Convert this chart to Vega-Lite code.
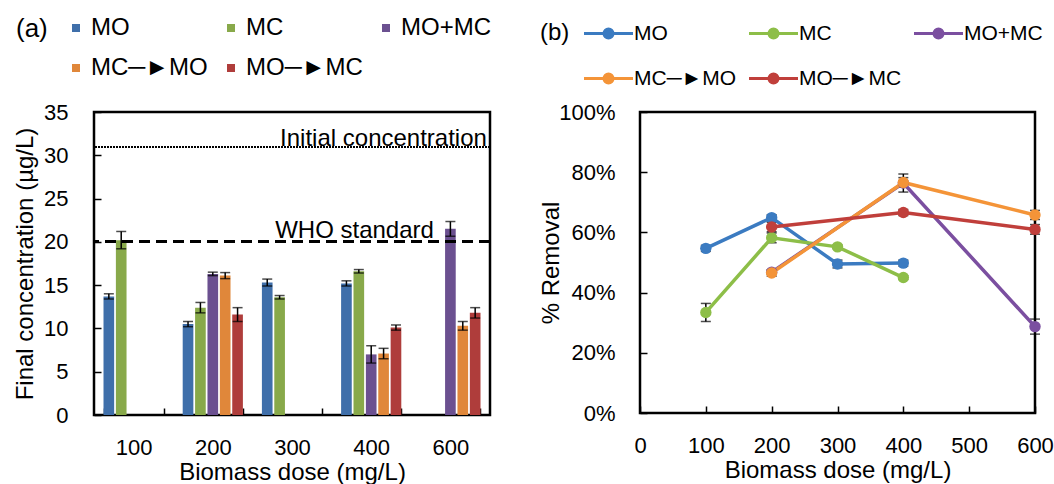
{
  "$schema": "https://vega.github.io/schema/vega-lite/v6.json",
  "background": "white",
  "padding": {"left": 12, "top": 14, "right": 0, "bottom": 0},
  "spacing": 150,
  "bounds": "flush",
  "config": {
    "font": "Liberation Sans",
    "view": {"stroke": "#000", "strokeWidth": 2.5},
    "axis": {
      "domain": false, "grid": false, "tickColor": "#000", "tickWidth": 1.5, "tickSize": -7,
      "labelColor": "#000", "titleColor": "#000", "labelFontSize": 22, "titleFontSize": 24,
      "titleFontWeight": "normal", "labelFont": "Liberation Sans", "titleFont": "Liberation Sans", "labelFlush": false
    },
    "legend": {
      "labelFont": "Liberation Sans", "titleFont": "Liberation Sans", "labelColor": "#000", "titleColor": "#000",
      "labelFontSize": 24, "titleFontSize": 26, "titleFontWeight": "normal"
    }
  },
  "resolve": {"scale": {"color": "independent", "x": "independent", "y": "independent"}, "legend": {"color": "independent"}},
  "hconcat": [
    {
      "width": 396,
      "height": 303,
      "data": {"values": [
        {"dose": "100", "series": "MO", "conc": 13.7, "lo": 13.4, "hi": 14.0},
        {"dose": "100", "series": "MC", "conc": 20.2, "lo": 19.2, "hi": 21.2},
        {"dose": "200", "series": "MO", "conc": 10.5, "lo": 10.2, "hi": 10.8},
        {"dose": "200", "series": "MC", "conc": 12.4, "lo": 11.8, "hi": 13.0},
        {"dose": "200", "series": "MO+MC", "conc": 16.3, "lo": 16.1, "hi": 16.5},
        {"dose": "200", "series": "MC─►MO", "conc": 16.1, "lo": 15.75, "hi": 16.45},
        {"dose": "200", "series": "MO─►MC", "conc": 11.6, "lo": 10.8, "hi": 12.4},
        {"dose": "300", "series": "MO", "conc": 15.3, "lo": 14.9, "hi": 15.7},
        {"dose": "300", "series": "MC", "conc": 13.6, "lo": 13.4, "hi": 13.8},
        {"dose": "400", "series": "MO", "conc": 15.2, "lo": 14.9, "hi": 15.5},
        {"dose": "400", "series": "MC", "conc": 16.6, "lo": 16.4, "hi": 16.8},
        {"dose": "400", "series": "MO+MC", "conc": 7.0, "lo": 6.0, "hi": 8.0},
        {"dose": "400", "series": "MC─►MO", "conc": 7.1, "lo": 6.5, "hi": 7.7},
        {"dose": "400", "series": "MO─►MC", "conc": 10.1, "lo": 9.8, "hi": 10.4},
        {"dose": "600", "series": "MO+MC", "conc": 21.5, "lo": 20.65, "hi": 22.35},
        {"dose": "600", "series": "MC─►MO", "conc": 10.3, "lo": 9.8, "hi": 10.8},
        {"dose": "600", "series": "MO─►MC", "conc": 11.8, "lo": 11.2, "hi": 12.4}
      ]},
      "layer": [
        {
          "mark": {"type": "bar"},
          "encoding": {
            "x": {
              "field": "dose", "type": "nominal",
              "scale": {"domain": ["100", "200", "300", "400", "600"], "paddingInner": 0.24, "paddingOuter": 0.12},
              "axis": {"title": "Biomass dose (mg/L)", "labelAngle": 0, "tickBand": "extent", "labelPadding": 29, "titlePadding": 2}
            },
            "xOffset": {"field": "series", "type": "nominal", "scale": {"domain": ["MO", "MC", "MO+MC", "MC─►MO", "MO─►MC"], "paddingInner": 0.14}},
            "y": {
              "field": "conc", "type": "quantitative", "scale": {"domain": [0, 35], "nice": false},
              "axis": {"title": "Final concentration (µg/L)", "values": [0, 5, 10, 15, 20, 25, 30, 35], "labelPadding": 33, "titlePadding": 6}
            },
            "color": {
              "field": "series", "type": "nominal",
              "scale": {"domain": ["MO", "MC", "MO+MC", "MC─►MO", "MO─►MC"], "range": ["#3F6FAA", "#88A94A", "#6B5090", "#E0873A", "#AF3D3B"]},
              "legend": {
                "orient": "none", "legendX": -78, "legendY": -96, "direction": "horizontal", "columns": 3,
                "title": "(a)", "titleOrient": "left", "titleAnchor": "start", "titleBaseline": "top", "titlePadding": 16,
                "symbolType": "square", "symbolSize": 64, "symbolStrokeWidth": 0, "symbolOpacity": 1,
                "labelOffset": 3, "columnPadding": 11, "rowPadding": 16
              }
            }
          }
        },
        {
          "mark": {"type": "rule", "color": "#000", "strokeWidth": 1.5},
          "encoding": {
            "x": {"field": "dose", "type": "nominal"},
            "xOffset": {"field": "series", "type": "nominal"},
            "y": {"field": "lo", "type": "quantitative"}, "y2": {"field": "hi"}
          }
        },
        {
          "mark": {"type": "tick", "color": "#000", "thickness": 1.5, "size": 10},
          "encoding": {
            "x": {"field": "dose", "type": "nominal"},
            "xOffset": {"field": "series", "type": "nominal"},
            "y": {"field": "lo", "type": "quantitative"}
          }
        },
        {
          "mark": {"type": "tick", "color": "#000", "thickness": 1.5, "size": 10},
          "encoding": {
            "x": {"field": "dose", "type": "nominal"},
            "xOffset": {"field": "series", "type": "nominal"},
            "y": {"field": "hi", "type": "quantitative"}
          }
        },
        {
          "mark": {"type": "rule", "color": "#000", "strokeWidth": 1.5, "strokeDash": [1.5, 1.5]},
          "encoding": {"y": {"datum": 31}}
        },
        {
          "mark": {"type": "rule", "color": "#000", "strokeWidth": 2, "strokeDash": [11, 6]},
          "encoding": {"y": {"datum": 20}}
        },
        {
          "data": {"values": [{"label": "Initial concentration", "level": 31, "dose": "600"}]},
          "mark": {"type": "text", "align": "right", "baseline": "alphabetic", "dx": 36.5, "dy": -1, "fontSize": 24, "color": "#000"},
          "encoding": {"x": {"field": "dose", "type": "nominal"}, "y": {"field": "level", "type": "quantitative"}, "text": {"field": "label"}}
        },
        {
          "data": {"values": [{"label": "WHO standard", "level": 20, "dose": "600"}]},
          "mark": {"type": "text", "align": "right", "baseline": "alphabetic", "dx": -16.5, "dy": -4, "fontSize": 24, "color": "#000"},
          "encoding": {"x": {"field": "dose", "type": "nominal"}, "y": {"field": "level", "type": "quantitative"}, "text": {"field": "label"}}
        }
      ]
    },
    {
      "width": 395,
      "height": 301,
      "data": {"values": [
        {"series": "MO", "dose": 100, "removal": 54.7, "lo": 53.7, "hi": 55.7},
        {"series": "MO", "dose": 200, "removal": 64.9, "lo": 63.9, "hi": 65.9},
        {"series": "MO", "dose": 300, "removal": 49.5, "lo": 48.2, "hi": 50.8},
        {"series": "MO", "dose": 400, "removal": 49.8, "lo": 48.8, "hi": 50.8},
        {"series": "MC", "dose": 100, "removal": 33.4, "lo": 30.4, "hi": 36.4},
        {"series": "MC", "dose": 200, "removal": 58.2, "lo": 56.6, "hi": 59.8},
        {"series": "MC", "dose": 300, "removal": 55.2, "lo": 54.6, "hi": 55.8},
        {"series": "MC", "dose": 400, "removal": 45.0, "lo": 44.4, "hi": 45.6},
        {"series": "MO+MC", "dose": 200, "removal": 46.8, "lo": 46.2, "hi": 47.4},
        {"series": "MO+MC", "dose": 400, "removal": 76.4, "lo": 73.4, "hi": 79.4},
        {"series": "MO+MC", "dose": 600, "removal": 28.7, "lo": 26.2, "hi": 31.2},
        {"series": "MC─►MO", "dose": 200, "removal": 46.5, "lo": 45.4, "hi": 47.6},
        {"series": "MC─►MO", "dose": 400, "removal": 76.6, "lo": 75.0, "hi": 78.2},
        {"series": "MC─►MO", "dose": 600, "removal": 65.8, "lo": 64.3, "hi": 67.3},
        {"series": "MO─►MC", "dose": 200, "removal": 61.8, "lo": 60.2, "hi": 63.4},
        {"series": "MO─►MC", "dose": 400, "removal": 66.6, "lo": 65.6, "hi": 67.6},
        {"series": "MO─►MC", "dose": 600, "removal": 61.0, "lo": 59.4, "hi": 62.6}
      ]},
      "encoding": {
        "x": {
          "field": "dose", "type": "quantitative", "scale": {"domain": [0, 600], "nice": false},
          "axis": {"title": "Biomass dose (mg/L)", "values": [0, 100, 200, 300, 400, 500, 600], "labelPadding": 29, "titlePadding": 2}
        },
        "y": {
          "field": "removal", "type": "quantitative", "scale": {"domain": [0, 100], "nice": false},
          "axis": {"title": "% Removal", "values": [0, 20, 40, 60, 80, 100], "labelExpr": "datum.value + '%'", "labelPadding": 32, "titlePadding": -5}
        }
      },
      "layer": [
        {
          "mark": {"type": "rule", "color": "#000", "strokeWidth": 1.5},
          "encoding": {"y": {"field": "lo", "type": "quantitative"}, "y2": {"field": "hi"}}
        },
        {
          "mark": {"type": "tick", "color": "#000", "thickness": 1.5, "size": 10, "orient": "horizontal"},
          "encoding": {"y": {"field": "lo", "type": "quantitative"}}
        },
        {
          "mark": {"type": "tick", "color": "#000", "thickness": 1.5, "size": 10, "orient": "horizontal"},
          "encoding": {"y": {"field": "hi", "type": "quantitative"}}
        },
        {
          "mark": {"type": "line", "strokeWidth": 3.5},
          "encoding": {
            "color": {
              "field": "series", "type": "nominal",
              "scale": {"domain": ["MO", "MC", "MO+MC", "MC─►MO", "MO─►MC"], "range": ["#3B7BC1", "#8DBE48", "#7B4FA0", "#F49438", "#C03F3B"]},
              "legend": {
                "orient": "none", "legendX": -100, "legendY": -89, "direction": "horizontal", "columns": 3,
                "title": "(b)", "titleOrient": "left", "titleAnchor": "start", "titleBaseline": "line-top", "titleLineHeight": 21, "titleFontSize": 24, "titlePadding": 28,
                "symbolType": "M-4.08,0H4.08M-0.75,0A0.75,0.75 0 1,1 0.75,0A0.75,0.75 0 1,1 -0.75,0M-0.25,0A0.25,0.25 0 1,1 0.25,0A0.25,0.25 0 1,1 -0.25,0",
                "symbolSize": 144, "symbolStrokeWidth": 3, "labelFontSize": 21,
                "labelOffset": 15, "columnPadding": 6, "rowPadding": 23
              }
            }
          }
        },
        {
          "mark": {"type": "point", "filled": true, "size": 130, "opacity": 1},
          "encoding": {"color": {"field": "series", "type": "nominal", "legend": null}}
        }
      ]
    }
  ]
}
